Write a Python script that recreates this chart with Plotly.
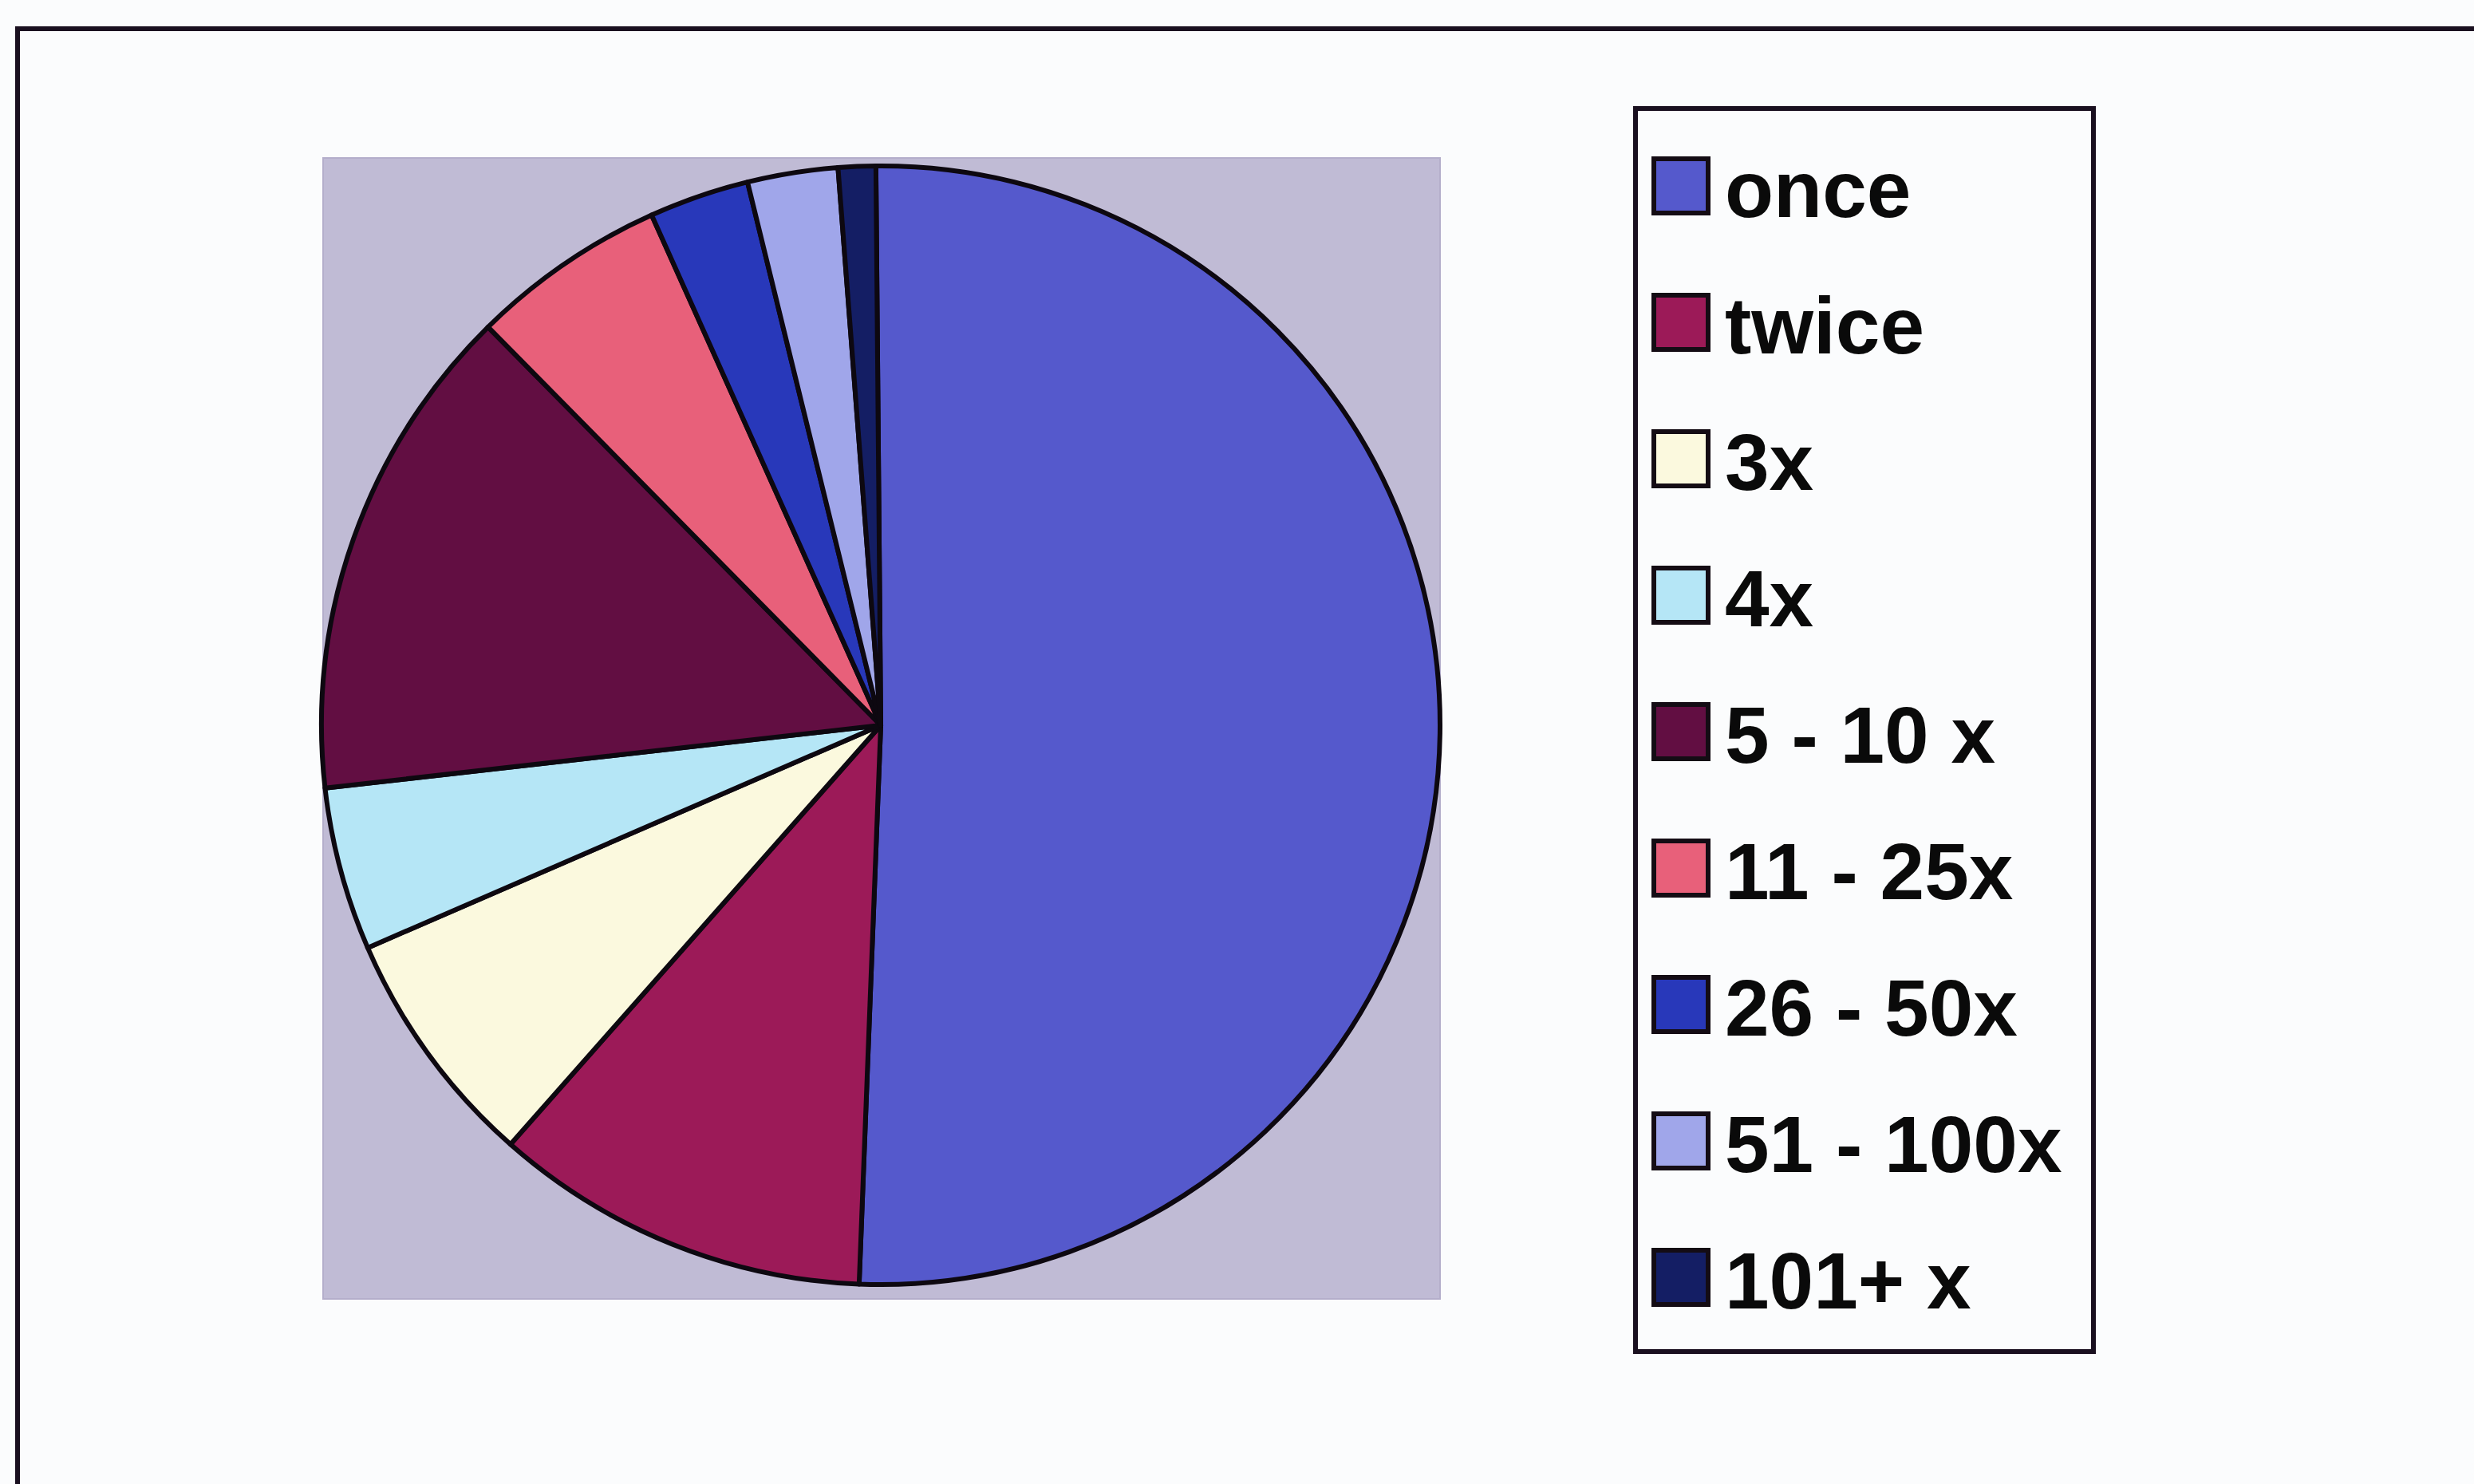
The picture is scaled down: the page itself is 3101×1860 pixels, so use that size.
import plotly.graph_objects as go

# ---- data ----
labels = ["once", "twice", "3x", "4x", "5 - 10 x", "11 - 25x", "26 - 50x", "51 - 100x", "101+ x"]
values = [50.75, 10.9, 6.97, 4.72, 14.4, 5.67, 2.89, 2.61, 1.08]
colors = ["#5559CC", "#9C1A58", "#FBF9DE", "#B5E6F6", "#620E42",
          "#E8607A", "#2838BA", "#A0A6EA", "#141E64"]

W, H = 3101, 1860


def px(x):
    return x / W


def py(y):
    return 1 - y / H


cx, cy, r = 1104, 909, 701

fig = go.Figure(
    go.Pie(
        labels=labels,
        values=values,
        sort=False,
        direction="clockwise",
        rotation=-0.5,
        marker=dict(colors=colors, line=dict(color="#0d0810", width=6)),
        textinfo="none",
        hoverinfo="label+percent",
        showlegend=False,
        domain=dict(x=[px(cx - r), px(cx + r)], y=[py(cy + r), py(cy - r)]),
    )
)

shapes = []
# outer chart frame (continues past the right and bottom edges)
shapes.append(dict(type="rect", xref="paper", yref="paper",
                   x0=px(22), y0=py(36), x1=px(3300), y1=py(2100),
                   line=dict(color="#1a1020", width=6), fillcolor="rgba(0,0,0,0)", layer="below"))
# plot area
shapes.append(dict(type="rect", xref="paper", yref="paper",
                   x0=px(405), y0=py(198), x1=px(1805), y1=py(1628),
                   line=dict(color="#b4aecb", width=2), fillcolor="#C0BBD5", layer="below"))
# legend box
shapes.append(dict(type="rect", xref="paper", yref="paper",
                   x0=px(2050), y0=py(136), x1=px(2624), y1=py(1694),
                   line=dict(color="#1a1020", width=6), fillcolor="#FBFCFD", layer="below"))

annotations = []
y0_leg, step = 233, 171
for i, (lab, col) in enumerate(zip(labels, colors)):
    yc = y0_leg + i * step
    shapes.append(dict(type="rect", xref="paper", yref="paper",
                       x0=px(2073), y0=py(yc - 34), x1=px(2141), y1=py(yc + 34),
                       line=dict(color="#140c14", width=6), fillcolor=col, layer="above"))
    annotations.append(dict(xref="paper", yref="paper", x=px(2160), y=py(yc + 4),
                            xanchor="left", yanchor="middle", showarrow=False,
                            text=lab,
                            font=dict(family="Liberation Sans, Arial, sans-serif",
                                      size=100, color="#0a0a0a", weight=700)))

fig.update_layout(
    width=W, height=H,
    margin=dict(l=0, r=0, t=0, b=0),
    paper_bgcolor="#FBFCFD",
    plot_bgcolor="#FBFCFD",
    shapes=shapes,
    annotations=annotations,
    showlegend=False,
)

fig.write_html("out.html",
               config={"displayModeBar": False},
               post_script="document.body.style.margin='0';document.body.style.overflow='hidden';")
